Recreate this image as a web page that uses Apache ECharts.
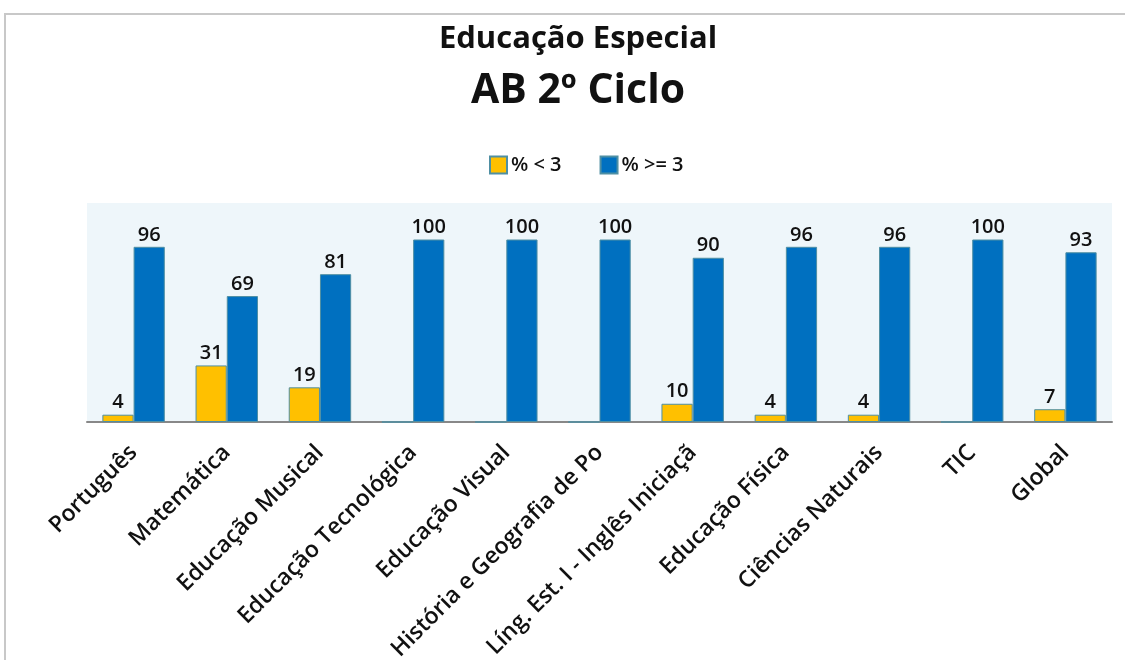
<!DOCTYPE html>
<html>
<head>
<meta charset="utf-8">
<script src="https://cdn.jsdelivr.net/npm/echarts@6/dist/echarts.min.js"></script>
<style>
  html, body { margin: 0; padding: 0; background: #fff; }
  #frame { position: absolute; left: 4px; top: 13px; width: 1121px; height: 647px;
           border-top: 2px solid #c8c8c8; border-left: 2px solid #c8c8c8; }
  #chart { position: absolute; left: 0; top: 0; width: 1125px; height: 660px; }
</style>
</head>
<body>
<div id="frame"></div>
<div id="chart"></div>
<script>
const categories = ['Português', 'Matemática', 'Educação Musical', 'Educação Tecnológica', 'Educação Visual',
    'História e Geografia de Po', 'Líng. Est. I - Inglês Iniciaçã', 'Educação Física', 'Ciências Naturais', 'TIC', 'Global']
const below3 = [4, 31, 19, 0, 0, 0, 10, 4, 4, 0, 7]
const atLeast3 = [96, 69, 81, 100, 100, 100, 90, 96, 96, 100, 93]

const chart = echarts.init(document.getElementById('chart'))

// rótulos de valor: esconder os zeros
const valueLabel = {
    show: true,
    position: 'top',
    distance: 2,
    fontFamily: 'Open Sans',
    fontSize: 20,
    fontWeight: 600,
    color: '#111',
    formatter: p => (p.value === 0 ? '' : p.value)
}

chart.setOption({
    backgroundColor: 'transparent',
    textStyle: { fontFamily: 'Open Sans' },
    title: [{
        text: 'Educação Especial',
        left: 573,
        textAlign: 'center',
        top: 19,
        textStyle: { fontSize: 31, fontWeight: 'bold', color: '#111' }
    }, {
        text: 'AB 2º Ciclo',
        left: 573,
        textAlign: 'center',
        top: 66,
        textStyle: { fontSize: 41, fontWeight: 'bold', color: '#111' }
    }],
    legend: {
        top: 150,
        left: 484,
        itemWidth: 17,
        itemHeight: 17,
        itemGap: 38,
        icon: 'rect',
        textStyle: { fontSize: 20, fontWeight: 600, color: '#111', padding: [0, 0, 0, -1] }
    },
    grid: {
        left: 87,
        right: 13,
        top: 203,
        bottom: 238,
        outerBoundsMode: 'none',
        containLabel: false,
        show: true,
        backgroundColor: '#eef6fa',
        borderWidth: 0
    },
    xAxis: {
        type: 'category',
        data: categories,
        axisLine: { lineStyle: { color: '#888', width: 2 } },
        axisTick: { show: false },
        axisLabel: {
            interval: 0,
            rotate: 45,
            margin: 27,
            fontSize: 23,
            fontWeight: 600,
            color: '#111'
        }
    },
    yAxis: {
        type: 'value',
        min: 0,
        max: 120,
        show: false,
        splitLine: { show: false }
    },
    series: [{
        name: '% < 3',
        type: 'bar',
        data: below3,
        barGap: '0%',
        barCategoryGap: '33%',
        itemStyle: { color: '#ffc000', borderColor: '#4f8fa3', borderWidth: 1 },
        label: valueLabel
    }, {
        name: '% >= 3',
        type: 'bar',
        data: atLeast3,
        itemStyle: { color: '#0070c0', borderColor: '#4f8fa3', borderWidth: 1 },
        label: valueLabel
    }]
})
</script>
</body>
</html>
